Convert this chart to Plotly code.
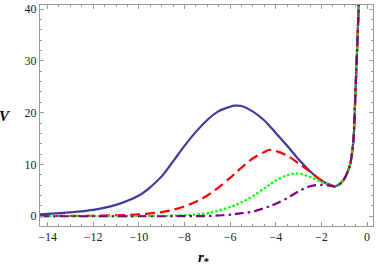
import plotly.graph_objects as go

# tortoise coordinate r_*
r_star = [-14.33, -14, -13, -12, -11, -10, -9.5, -9, -8.5, -8, -7.5, -7, -6.5, -6, -5.8, -5.5,
          -5, -4.5, -4.3, -4, -3.5, -3, -2.5, -2, -1.7, -1.4, -1.2, -1.0, -0.85, -0.73,
          -0.65, -0.59, -0.5, -0.4, -0.33]

V_blue = [0.38, 0.45, 0.75, 1.25, 2.2, 4.0, 5.6, 7.7, 10.6, 13.6, 16.3, 18.6, 20.3, 21.15,
          21.35, 21.3, 20.2, 18.5, 17.6, 16.1, 13.6, 11.0, 8.7, 6.9, 6.2, 5.8, 6.2, 7.2, 8.6,
          10.2, 12.5, 15.0, 25.0, 36.5, 45.0]

V_red = [0.05, 0.05, 0.07, 0.1, 0.2, 0.35, 0.55, 0.8, 1.25, 1.9, 2.8, 4.0, 5.6, 7.4, 8.2,
         9.4, 11.2, 12.4, 12.8, 12.6, 11.7, 10.2, 8.6, 6.9, 6.2, 5.8, 6.2, 7.2, 8.6, 10.2,
         12.5, 15.0, 25.0, 36.5, 45.0]

V_green = [0.03, 0.03, 0.03, 0.03, 0.03, 0.05, 0.06, 0.08, 0.12, 0.2, 0.35, 0.6, 1.1, 1.8,
           2.1, 2.7, 3.9, 5.4, 6.0, 6.9, 7.9, 8.25, 7.6, 6.6, 6.1, 5.8, 6.2, 7.2, 8.6, 10.2,
           12.5, 15.0, 25.0, 36.5, 45.0]

V_purple = [0.0, 0.0, 0.0, 0.0, 0.0, 0.0, 0.0, 0.0, 0.01, 0.02, 0.03, 0.05, 0.15, 0.3, 0.4,
            0.6, 0.9, 1.6, 1.9, 2.4, 3.5, 4.8, 5.8, 6.05, 5.95, 5.75, 6.2, 7.2, 8.6, 10.2,
            12.5, 15.0, 25.0, 36.5, 45.0]

x_ticks = [-14, -12, -10, -8, -6, -4, -2, 0]
x_tick_text = ["\u221214", "\u221212", "\u221210", "\u22128", "\u22126", "\u22124", "\u22122", "0"]
y_ticks = [0, 10, 20, 30, 40]

SERIF = "Liberation Serif"

fig = go.Figure()
series = [
    (V_blue, "#3D3D99", "solid"),
    (V_red, "#FF0000", "10px,5px"),
    (V_green, "#00FF00", "2.5px,2px"),
    (V_purple, "#800080", "9px,4px,2.5px,4px"),
]
for vals, col, dash in series:
    fig.add_trace(go.Scatter(x=r_star, y=vals, mode="lines",
                             line=dict(color=col, width=2.2, dash=dash, shape="spline", smoothing=1.0),
                             showlegend=False, hoverinfo="skip"))

axis_common = dict(showgrid=False, zeroline=False, showline=True, linecolor="#9a9a9a",
                   linewidth=1, mirror="allticks", ticks="inside", ticklen=4,
                   tickcolor="#9a9a9a", tickwidth=1, automargin=False,
                   tickfont=dict(family=SERIF, size=12, color="#222"))

fig.update_xaxes(range=[-14.33, 0.26], tickvals=x_ticks, ticktext=x_tick_text,
                 minor=dict(ticks="inside", dtick=0.5, ticklen=2, tickcolor="#9a9a9a"),
                 **axis_common)
fig.update_yaxes(range=[-1.88, 40.8], tickvals=y_ticks,
                 minor=dict(ticks="inside", dtick=2, ticklen=2, tickcolor="#9a9a9a"),
                 **axis_common)

fig.add_annotation(text="<b><i>V</i></b>", xref="paper", yref="paper", x=-0.082, y=0.5,
                   xanchor="right", yanchor="middle", showarrow=False,
                   font=dict(family=SERIF, size=15, color="#000"))
fig.add_annotation(text="<b><i>r</i></b><sub><b>*</b></sub>", xref="paper", yref="paper",
                   x=0.49, y=-0.095, xanchor="center", yanchor="top", showarrow=False,
                   font=dict(family=SERIF, size=15, color="#000"))

fig.update_layout(width=381, height=268, margin=dict(l=40, r=8, t=5, b=42),
                  plot_bgcolor="white", paper_bgcolor="white")

fig.write_html("out.html", config={"displayModeBar": False},
               post_script="document.body.style.margin='0';document.body.style.padding='0';")
